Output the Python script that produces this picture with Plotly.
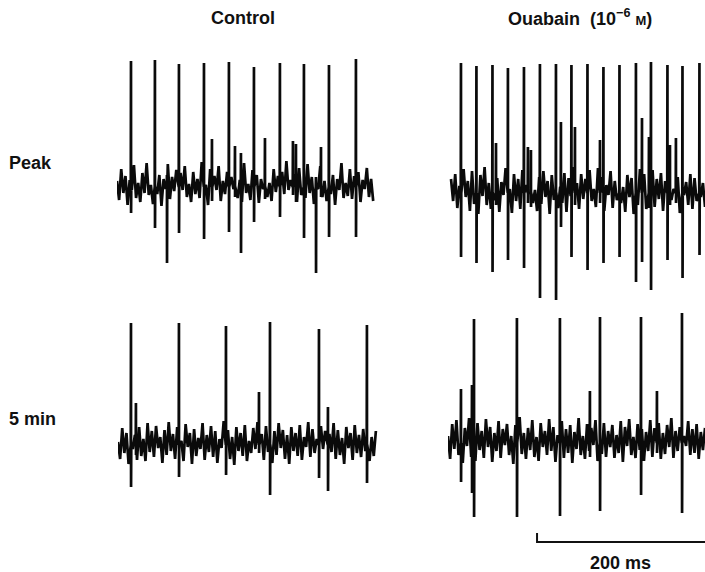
import numpy as np
import plotly.graph_objects as go

# ---------------- data (arbitrary amplitude units, time in ms) ----------------
# Control, peak
tl_span = [0.0, 305.0]
tl_spike_t = [16.7, 45.2, 73.8, 103.6, 133.3, 163.1, 194.0, 222.6, 252.4, 284.5]
tl_spike_up = [126, 127, 123, 124, 125, 120, 124, 123, 122, 128]
tl_spike_dn = [-26, -41, -46, -52, -45, -35, -30, -51, -50, -50]
tl_unit2_t = [59.5, 113.1, 140.5, 147.6, 176.2, 209.5, 213.1, 236.9, 242.9]
tl_unit2_up = [12, 48, 41, 34, 49, 46, 43, 10, 40]
tl_unit2_dn = [-76, -14, -10, -66, -12, -8, -15, -86, -10]
tl_noise = [6, -13, 18, -6, 11, -18, 7, -3, 22, -11, 4, -15, 14, -6, 24, -8, 2, -17, 19, -7,
            12, -19, 8, -2, 23, -12, 10, -4, 17, -16, 14, -3, 21, -10, 3, -15, 15, -7, 8, -11,
            25, -4, 2, -18, 18, -8, 11, -3, 21, -14, 6, -7, 15, -20, 10, -2, 19, -11, 7, -15,
            24, -6, 3, -13, 17, -9, 12, -16, 8, -2, 22, -10, 4, -14, 18, -5, 11, -19, 15, -7,
            26, -3, 7, -12, 13, -15, 19, -8, 3, -11, 23, -6, 10, -17, 14, -2, 21, -10, 6, -14,
            17, -7, 12, -18, 8, -3, 24, -11, 4, -9, 18, -12, 11, -4, 15, -15, 7, -2, 19, -10,
            8, -14]

# Ouabain, peak
tr_span = [2.4, 304.8]
tr_spike_t = [14.3, 32.7, 51.8, 70.2, 89.3, 108.3, 127.4, 145.8, 164.9, 183.9, 203.0, 222.6,
              240.5, 260.1, 278.0, 298.2]
tr_spike_up = [130, 127, 128, 125, 126, 129, 129, 128, 129, 126, 128, 130, 131, 128, 127, 130]
tr_spike_dn = [-64, -70, -79, -67, -75, -105, -107, -64, -77, -70, -64, -89, -97, -67, -85, -62]
tr_unit2_t = [56.0, 94.0, 97.6, 133.3, 150.0, 179.8, 229.8, 238.1, 263.1, 270.2]
tr_unit2_up = [50, 46, 43, 71, 66, 53, 75, 56, 48, 55]
tr_unit2_dn = [-12, -10, -14, -34, -12, -10, -69, -15, -12, -10]
tr_noise = [14, -8, 19, -15, 7, -20, 24, -4, 12, -18, 22, -11, 6, -21, 18, -3, 26, -12, 10, -16,
            20, -7, 15, -19, 11, -2, 25, -14, 4, -20, 19, -8, 14, -16, 23, -6, 8, -12, 27, -10,
            3, -18, 16, -11, 22, -4, 12, -21, 18, -7, 24, -15, 6, -10, 20, -19, 15, -3, 26, -12,
            10, -16, 19, -6, 14, -20, 23, -8, 4, -14, 25, -11, 16, -18, 8, -2, 22, -15, 12, -7,
            27, -10, 6, -19, 18, -4, 15, -21, 11, -12, 24, -3, 19, -16, 8, -8, 23, -14, 14, -6,
            20, -18, 12, -11, 25, -7, 4, -15, 16, -20, 22, -2, 11, -12, 19, -16, 15, -8, 24, -4,
            10, -14]

# Control, 5 min
bl_span = [0.0, 307.0]
bl_spike_t = [15.5, 72.6, 128.6, 181.0, 239.3, 296.4]
bl_spike_up = [122, 122, 119, 123, 116, 120]
bl_spike_dn = [-42, -32, -30, -50, -33, -38]
bl_unit2_t = [21.4, 167.9, 250.0]
bl_unit2_up = [42, 53, 38]
bl_unit2_dn = [-10, -8, -46]
bl_noise = [3, -14, 17, -8, 12, -19, 20, -4, 10, -15, 18, -11, 6, -16, 22, -7, 14, -12, 19, -3,
            8, -18, 15, -10, 23, -6, 11, -14, 18, -8, 4, -16, 21, -2, 12, -19, 16, -11, 7, -4,
            22, -15, 10, -7, 19, -12, 14, -18, 6, -3, 24, -10, 15, -14, 8, -20, 18, -6, 12, -11,
            20, -16, 4, -8, 17, -4, 23, -12, 11, -15, 19, -7, 7, -18, 14, -10, 22, -3, 15, -14,
            10, -19, 18, -6, 12, -11, 20, -15, 8, -2, 23, -12, 16, -8, 6, -16, 19, -4, 14, -18,
            11, -7, 22, -14, 15, -10, 7, -19, 18, -3, 12, -15, 20, -8, 10, -12, 16, -6, 23, -16,
            8, -11, 14]

# Ouabain, 5 min
br_span = [0.0, 306.0]
br_spike_t = [31.0, 82.1, 133.3, 181.0, 229.8, 278.6]
br_spike_up = [124, 125, 125, 126, 126, 130]
br_spike_dn = [-74, -74, -73, -68, -52, -70]
br_unit2_t = [15.5, 28.6, 169.0, 248.8]
br_unit2_up = [54, 58, 52, 52]
br_unit2_dn = [-39, -50, -14, -10]
br_noise = [7, -16, 19, -6, 23, -12, 11, -20, 15, -3, 25, -14, 8, -18, 20, -7, 12, -15, 24, -4,
            16, -19, 10, -8, 22, -15, 14, -2, 19, -12, 7, -21, 18, -6, 26, -11, 10, -16, 15, -7,
            23, -14, 6, -18, 20, -4, 12, -12, 24, -8, 16, -19, 8, -3, 22, -15, 14, -10, 18, -20,
            11, -6, 25, -12, 7, -16, 19, -8, 15, -2, 23, -18, 10, -11, 20, -14, 12, -4, 18, -15,
            8, -10, 22, -19, 16, -3, 24, -12, 6, -15, 19, -7, 14, -18, 11, -8, 23, -14, 15, -6,
            20, -16, 10, -11, 18, -4, 25, -15, 12, -8, 16, -19, 7, -3, 22, -12, 14, -10, 19, -16,
            11, -7, 15]

column_titles = ["Control", "Ouabain  (10<sup>\u22126</sup> <span style='font-size:13px'>M</span>)"]
row_titles = ["Peak", "5 min"]
scale_bar_ms = 200
scale_bar_start = 106.0
scale_bar_label = "200 ms"

# ---------------- layout constants ----------------
W, H = 705, 572
PX_PER_MS = 0.84
Y_LO, Y_HI = -115, 140  # 1 unit = 1 px


def build(noise, span, spikes, unit2):
    t = np.linspace(span[0], span[1], len(noise))
    ev = []
    ev_t = []
    for ts, up, dn in list(spikes) + list(unit2):
        ev += [(ts - 0.3, 0), (ts - 0.05, up), (ts + 0.05, dn), (ts + 0.3, 0)]
        ev_t.append(ts)
    ev_t = np.array(ev_t)
    pts = []
    for ti, vi in zip(t, noise):
        if np.min(np.abs(ev_t - ti)) > 0.9:
            pts.append((ti, vi))
    pts += ev
    pts.sort(key=lambda p: p[0])
    return [p[0] for p in pts], [p[1] for p in pts]


panels = [
    (117, 187, tl_noise, tl_span, zip(tl_spike_t, tl_spike_up, tl_spike_dn), zip(tl_unit2_t, tl_unit2_up, tl_unit2_dn)),
    (449, 193, tr_noise, tr_span, zip(tr_spike_t, tr_spike_up, tr_spike_dn), zip(tr_unit2_t, tr_unit2_up, tr_unit2_dn)),
    (118, 445, bl_noise, bl_span, zip(bl_spike_t, bl_spike_up, bl_spike_dn), zip(bl_unit2_t, bl_unit2_up, bl_unit2_dn)),
    (448, 443, br_noise, br_span, zip(br_spike_t, br_spike_up, br_spike_dn), zip(br_unit2_t, br_unit2_up, br_unit2_dn)),
]

fig = go.Figure()
layout = dict(width=W, height=H, margin=dict(l=0, r=0, t=0, b=0),
              paper_bgcolor="white", plot_bgcolor="rgba(0,0,0,0)", showlegend=False)

for i, (x0, base, noise, span, sp, u2) in enumerate(panels):
    k = "" if i == 0 else str(i + 1)
    x1 = min(x0 + 262, W)
    xr = [0, (x1 - x0) / PX_PER_MS]
    xs, ys = build(noise, span, list(sp), list(u2))
    fig.add_trace(go.Scatter(x=xs, y=ys, mode="lines", xaxis="x" + k, yaxis="y" + k,
                             line=dict(color="#0a0a0a", width=2.7), hoverinfo="skip"))
    layout["xaxis" + k] = dict(domain=[x0 / W, x1 / W], range=xr, visible=False,
                               anchor="y" + k, fixedrange=True)
    layout["yaxis" + k] = dict(domain=[1 - (base - Y_LO) / H, 1 - (base - Y_HI) / H],
                               range=[Y_LO, Y_HI], visible=False, anchor="x" + k, fixedrange=True)
    if i == 3:
        fig.add_trace(go.Scatter(x=[scale_bar_start, scale_bar_start, scale_bar_start + scale_bar_ms],
                                 y=[-90, -99, -99], mode="lines", xaxis="x4", yaxis="y4",
                                 line=dict(color="#111111", width=2), hoverinfo="skip",
                                 cliponaxis=False))
        scale_mid_px = x0 + (scale_bar_start + scale_bar_ms / 2) * PX_PER_MS

fig.update_layout(**layout)

font = dict(family="Liberation Sans, Arial, sans-serif", size=18, color="#111111")
ann = [
    dict(text="<b>" + column_titles[0] + "</b>", x=243 / W, y=1 - 18 / H),
    dict(text="<b>" + column_titles[1] + "</b>", x=580 / W, y=1 - 18 / H),
    dict(text="<b>" + scale_bar_label + "</b>", x=(scale_mid_px - 1) / W, y=1 - 563 / H),
]
for a in ann:
    a.update(xref="paper", yref="paper", showarrow=False, xanchor="center", yanchor="middle", font=font)
for txt, ypx in zip(row_titles, [163, 419]):
    ann.append(dict(text="<b>" + txt + "</b>", x=7 / W, y=1 - ypx / H, xref="paper", yref="paper",
                    showarrow=False, xanchor="left", yanchor="middle", font=font))
fig.update_layout(annotations=ann)

fig.write_html("out.html", config={"displayModeBar": False})
